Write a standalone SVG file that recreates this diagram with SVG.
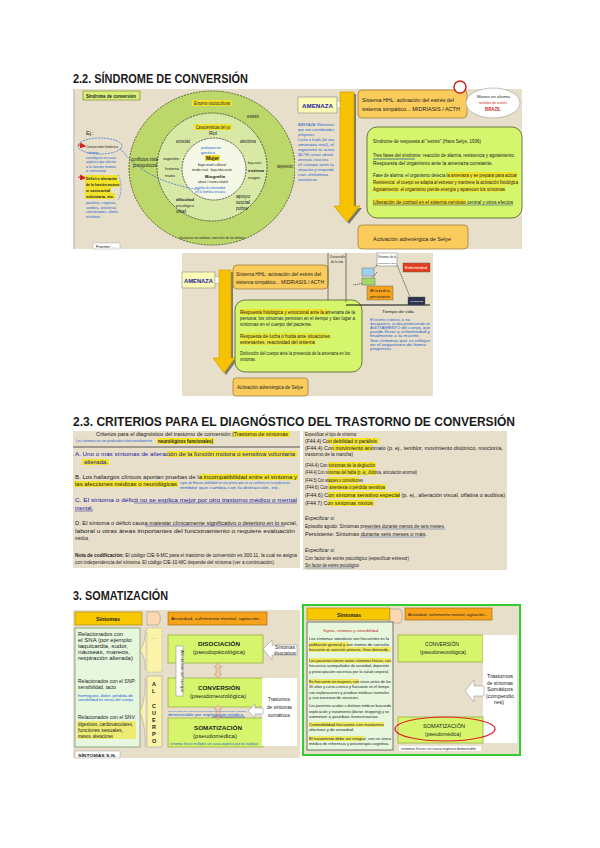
<svg xmlns="http://www.w3.org/2000/svg" width="600" height="848" viewBox="0 0 600 848">
<style>
.ttl{font-family:"Liberation Sans",Arial,sans-serif;font-weight:bold;font-size:12.5px;fill:#1a1a1a}
.t{font-family:"Liberation Sans",Arial,sans-serif;font-size:5px;fill:#222}
.tb{font-family:"Liberation Sans",Arial,sans-serif;font-size:5px;fill:#222;font-weight:bold}
.blu{font-family:"Liberation Sans",Arial,sans-serif;font-size:4.2px;fill:#1a5fd0}
.blub{font-family:"Liberation Sans",Arial,sans-serif;font-size:5px;fill:#1a1aa0;font-weight:bold}
.bg{fill:#e8dfca}
.hl{fill:#f2e22a}
.org{fill:#fbcb5c;stroke:#a08040;stroke-width:0.8}
.lime{fill:#d6f56c;stroke:#9ab040;stroke-width:0.8}
</style>
<defs>
<marker id="ar" markerWidth="6" markerHeight="6" refX="5" refY="3" orient="auto"><path d="M0,0L6,3L0,6z" fill="#d02020"/></marker>
</defs>
<rect width="600" height="848" fill="#fff"/>

<!-- Titles -->
<text class="ttl" x="73" y="83" textLength="175" lengthAdjust="spacingAndGlyphs">2.2. SÍNDROME DE CONVERSIÓN</text>
<text class="ttl" x="73" y="426" textLength="442" lengthAdjust="spacingAndGlyphs">2.3. CRITERIOS PARA EL DIAGNÓSTICO DEL TRASTORNO DE CONVERSIÓN</text>
<text class="ttl" x="73" y="600" textLength="95" lengthAdjust="spacingAndGlyphs">3. SOMATIZACIÓN</text>

<!-- Image 1 left: circles -->
<g id="circles">
<rect x="73" y="89" width="222" height="160" class="bg"/>
<line x1="74" y1="89" x2="74" y2="249" stroke="#bbb" stroke-width="1"/>
<rect x="83" y="91" width="57" height="9" fill="#d8ef7a" stroke="#8a9a40" stroke-width="0.8"/>
<text class="tb" x="86" y="97.5" textLength="50" lengthAdjust="spacingAndGlyphs">Síndrome de conversión</text>
<ellipse cx="212" cy="168" rx="83" ry="77" fill="#bcd86a" stroke="#3a4a20" stroke-width="0.8" stroke-dasharray="2,1"/>
<ellipse cx="212" cy="167" rx="55" ry="54" fill="#d8e9a6" stroke="#333" stroke-width="0.8" stroke-dasharray="2,1"/>
<ellipse cx="214" cy="169" rx="32" ry="31" fill="#f5f8e6" stroke="#333" stroke-width="0.8" stroke-dasharray="2,1"/>
<rect x="192" y="100" width="40" height="6" class="hl"/>
<text class="t" x="194" y="104.5" textLength="36" lengthAdjust="spacingAndGlyphs">Entorno sociocultural</text>
<text class="t" x="247" y="118" textLength="12" lengthAdjust="spacingAndGlyphs">estrés</text>
<rect x="194" y="124" width="38" height="6" class="hl"/>
<text class="t" x="196" y="128.5" textLength="34" lengthAdjust="spacingAndGlyphs">Características del yo</text>
<text class="t" x="209" y="135" textLength="8" lengthAdjust="spacingAndGlyphs">Rol</text>
<text class="t" x="176" y="143" textLength="14" lengthAdjust="spacingAndGlyphs">ansiedad</text>
<text class="t" x="240" y="143" textLength="16" lengthAdjust="spacingAndGlyphs">alexitimia</text>
<text class="t" x="277" y="168" textLength="16" lengthAdjust="spacingAndGlyphs">depresión</text>
<text class="t" x="131" y="161" textLength="28" lengthAdjust="spacingAndGlyphs">conflictos intra-</text>
<text class="t" x="133" y="167" textLength="24" lengthAdjust="spacingAndGlyphs">psíquicos</text>
<text class="t" x="163" y="160" style="font-size:4px" textLength="16" lengthAdjust="spacingAndGlyphs">sugestión</text>
<text class="t" x="165" y="170" style="font-size:4px" textLength="14" lengthAdjust="spacingAndGlyphs">histeria</text>
<text class="t" x="165" y="177" style="font-size:4px" textLength="10" lengthAdjust="spacingAndGlyphs">trato</text>
<text class="blu" x="201" y="149" style="font-size:3px" textLength="20" lengthAdjust="spacingAndGlyphs">predisposición</text>
<text class="blu" x="201" y="153.5" style="font-size:3px" textLength="14" lengthAdjust="spacingAndGlyphs">genética</text>
<rect x="205" y="155" width="15" height="6" class="hl"/>
<text class="tb" x="206" y="159.5" style="font-size:4.5px" textLength="13" lengthAdjust="spacingAndGlyphs">Mujer</text>
<text class="t" x="198" y="165.5" style="font-size:3.5px" textLength="28" lengthAdjust="spacingAndGlyphs">bajo nivel cultural</text>
<text class="t" x="192" y="171" style="font-size:3px" textLength="40" lengthAdjust="spacingAndGlyphs">medio rural · baja educación</text>
<text class="tb" x="205" y="177.5" style="font-size:4px" textLength="20" lengthAdjust="spacingAndGlyphs">Biografía</text>
<text class="t" x="198" y="183" style="font-size:3px" textLength="30" lengthAdjust="spacingAndGlyphs">abuso / trauma infantil</text>
<text class="blu" x="195" y="188.5" style="font-size:3px" textLength="30" lengthAdjust="spacingAndGlyphs">modelos de enfermedad</text>
<text class="blu" x="195" y="193" style="font-size:3px" textLength="30" lengthAdjust="spacingAndGlyphs">en la familia cercana</text>
<text class="t" x="248" y="164" style="font-size:3.5px" textLength="14" lengthAdjust="spacingAndGlyphs">baja auto-</text>
<text class="tb" x="248" y="171.5" style="font-size:4px" textLength="16" lengthAdjust="spacingAndGlyphs">estima</text>
<text class="t" x="248" y="179" style="font-size:4px" textLength="12" lengthAdjust="spacingAndGlyphs">rasgos</text>
<text class="tb" x="176" y="201" style="font-size:4px" textLength="18" lengthAdjust="spacingAndGlyphs">dificultad</text>
<text class="t" x="176" y="207" style="font-size:3.5px" textLength="18" lengthAdjust="spacingAndGlyphs">psicológica</text>
<text class="t" x="176" y="213" textLength="10" lengthAdjust="spacingAndGlyphs">vital</text>
<text class="t" x="236" y="198" textLength="14" lengthAdjust="spacingAndGlyphs">apoyo</text>
<text class="t" x="236" y="204" textLength="14" lengthAdjust="spacingAndGlyphs">social</text>
<text class="t" x="236" y="210" textLength="12" lengthAdjust="spacingAndGlyphs">pobre</text>
<text class="t" x="179" y="239" style="font-size:3.5px" textLength="66" lengthAdjust="spacingAndGlyphs">Ganancia secundaria: atención de los demás</text>
<text class="t" x="86" y="135" textLength="8" lengthAdjust="spacingAndGlyphs">Ej.:</text>
<ellipse cx="100" cy="146" rx="22" ry="8" fill="none" stroke="#2a6ad8" stroke-width="0.7" stroke-dasharray="2,1"/>
<text class="t" x="86" y="148" style="font-size:3.8px" textLength="32" lengthAdjust="spacingAndGlyphs">Conversión histérica</text>
<path d="M78,145 L85,146" stroke="#d02020" stroke-width="1" marker-end="url(#ar)"/>
<path d="M78,177 L85,178" stroke="#d02020" stroke-width="1" marker-end="url(#ar)"/>
<text class="blu" x="87" y="154" style="font-size:3px" textLength="12" lengthAdjust="spacingAndGlyphs">síntomas</text>
<text class="blu" x="86" y="158.5" style="font-size:3px" textLength="30" lengthAdjust="spacingAndGlyphs">neurológicos sin causa</text>
<text class="blu" x="86" y="163" style="font-size:3px" textLength="30" lengthAdjust="spacingAndGlyphs">orgánica que afectan</text>
<text class="blu" x="86" y="167.5" style="font-size:3px" textLength="30" lengthAdjust="spacingAndGlyphs">a la función motora</text>
<text class="blu" x="86" y="172" style="font-size:3px" textLength="20" lengthAdjust="spacingAndGlyphs">o sensorial</text>
<rect x="85" y="175" width="33" height="6" class="hl"/>
<rect x="85" y="181" width="35" height="6" class="hl"/>
<rect x="85" y="187" width="26" height="6" class="hl"/>
<rect x="85" y="193" width="30" height="6" class="hl"/>
<text class="tb" x="86" y="179.5" style="font-size:3.8px" textLength="31" lengthAdjust="spacingAndGlyphs">Déficit o alteración</text>
<text class="tb" x="86" y="185.5" style="font-size:3.8px" textLength="33" lengthAdjust="spacingAndGlyphs">de la función motora</text>
<text class="tb" x="86" y="191.5" style="font-size:3.8px" textLength="24" lengthAdjust="spacingAndGlyphs">o sensorial</text>
<text class="tb" x="86" y="197.5" style="font-size:3.8px" textLength="28" lengthAdjust="spacingAndGlyphs">voluntaria, etc.</text>
<path d="M118,175 C122,180 122,195 118,200" fill="none" stroke="#2a6ad8" stroke-width="0.6" stroke-dasharray="1.5,1"/>
<text class="blu" x="86" y="204" style="font-size:3px" textLength="30" lengthAdjust="spacingAndGlyphs">parálisis, ceguera,</text>
<text class="blu" x="86" y="208.5" style="font-size:3px" textLength="30" lengthAdjust="spacingAndGlyphs">sordera, anestesia</text>
<text class="blu" x="86" y="213" style="font-size:3px" textLength="32" lengthAdjust="spacingAndGlyphs">convulsiones, afonía</text>
<text class="blu" x="86" y="217.5" style="font-size:3px" textLength="14" lengthAdjust="spacingAndGlyphs">etcétera</text>
<path d="M120,148 C140,175 170,185 200,190" fill="none" stroke="#2a6ad8" stroke-width="0.7" stroke-dasharray="2,1"/>
<rect x="93" y="243" width="27" height="6" fill="#fff" stroke="#999" stroke-width="0.4"/>
<text class="t" x="96" y="247.5" style="font-size:4px" textLength="20" lengthAdjust="spacingAndGlyphs">Fuente: ...</text>
</g>

<!-- Image 1 right -->
<g id="amenaza1">
<rect x="295" y="89" width="227" height="160" class="bg"/>
<rect x="298" y="97" width="39" height="16" fill="#fdfbb8" stroke="#888" stroke-width="0.6"/>
<text class="blub" x="302" y="108" style="font-size:6px" textLength="31" lengthAdjust="spacingAndGlyphs">AMENAZA</text>
<path d="M337,101 H349 V98 L356,104.5 L349,111 V108 H337 Z" fill="#fff" stroke="#999" stroke-width="0.5"/>
<path d="M342,94 H356 V208 H362 L349,224 L336,208 H342 Z" fill="#7a7a6a"/>
<path d="M340,92 H354 V206 H360 L347,222 L334,206 H340 Z" fill="#f7c300" stroke="#c99a00" stroke-width="0.6"/>
<rect x="358" y="90" width="109" height="28" rx="4" class="org"/>
<text class="t" x="362" y="102" style="font-size:5.5px" textLength="92" lengthAdjust="spacingAndGlyphs">Sistema HHL: activación del estrés del</text>
<text class="t" x="362" y="111" style="font-size:5.5px" textLength="98" lengthAdjust="spacingAndGlyphs">sistema simpático... MIDRIASIS / ACTH</text>
<circle cx="460" cy="87" r="6" fill="#fff" stroke="#d02020" stroke-width="1.5"/>
<ellipse cx="493" cy="103" rx="27" ry="15" fill="#fff" stroke="#999" stroke-width="0.6"/>
<text class="t" x="477" y="97.5" style="font-size:4px" textLength="33" lengthAdjust="spacingAndGlyphs">Manos en alarma</text>
<text class="t" x="479" y="104" style="font-size:3.5px;fill:#d02020" textLength="28" lengthAdjust="spacingAndGlyphs">señales de estrés</text>
<text class="tb" x="485" y="110.5" style="fill:#d02020" textLength="16" lengthAdjust="spacingAndGlyphs">BRAZIL</text>
<text class="blu" x="298" y="126" style="font-size:3.2px" textLength="36" lengthAdjust="spacingAndGlyphs">AMENAZA: Elementos</text>
<text class="blu" x="298" y="131" style="font-size:3.2px" textLength="36" lengthAdjust="spacingAndGlyphs">que son considerados</text>
<text class="blu" x="298" y="136" style="font-size:3.2px" textLength="16" lengthAdjust="spacingAndGlyphs">peligrosos</text>
<text class="blu" x="298" y="141" style="font-size:3.2px" textLength="36" lengthAdjust="spacingAndGlyphs">Lucha o huida (de una</text>
<text class="blu" x="298" y="146" style="font-size:3.2px" textLength="36" lengthAdjust="spacingAndGlyphs">amenaza real), el</text>
<text class="blu" x="298" y="151" style="font-size:3.2px" textLength="36" lengthAdjust="spacingAndGlyphs">organismo se activa</text>
<text class="blu" x="298" y="156" style="font-size:3.2px" textLength="36" lengthAdjust="spacingAndGlyphs">(ACTH) cortisol, adrenal.</text>
<text class="blu" x="298" y="161" style="font-size:3.2px" textLength="30" lengthAdjust="spacingAndGlyphs">amenaza, reacciona</text>
<text class="blu" x="298" y="166" style="font-size:3.2px" textLength="36" lengthAdjust="spacingAndGlyphs">el cuerpo ante la</text>
<text class="blu" x="298" y="171" style="font-size:3.2px" textLength="36" lengthAdjust="spacingAndGlyphs">situación y responde</text>
<text class="blu" x="298" y="176" style="font-size:3.2px" textLength="30" lengthAdjust="spacingAndGlyphs">con síntomas</text>
<text class="blu" x="298" y="181" style="font-size:3.2px" textLength="20" lengthAdjust="spacingAndGlyphs">somáticos.</text>
<rect x="367" y="127" width="155" height="91" rx="10" fill="#d4f56c" stroke="#6a7a40" stroke-width="1"/>
<text class="t" x="373" y="143" style="font-size:5.5px" textLength="108" lengthAdjust="spacingAndGlyphs">Síndrome de respuesta al "estrés" (Hans Selye, 1936)</text>
<text class="t" x="373" y="157" style="font-size:5.5px" textLength="142" lengthAdjust="spacingAndGlyphs">Tres fases del síndrome: reacción de alarma, resistencia y agotamiento.</text>
<line x1="373" y1="159" x2="415" y2="159" stroke="#1a3aa0" stroke-width="0.7"/>
<text class="t" x="373" y="165" style="font-size:5.5px" textLength="120" lengthAdjust="spacingAndGlyphs">Respuesta del organismo ante la amenaza constante.</text>
<rect x="447" y="172" width="70" height="6" class="hl"/>
<rect x="373" y="179" width="145" height="6" fill="#f2e22a" opacity="0.7"/>
<rect x="373" y="186" width="132" height="6" fill="#f2e22a" opacity="0.7"/>
<text class="t" x="373" y="177" style="font-size:5.5px" textLength="144" lengthAdjust="spacingAndGlyphs">Fase de alarma: el organismo detecta la amenaza y se prepara para actuar</text>
<text class="t" x="373" y="184" style="font-size:5.5px" textLength="145" lengthAdjust="spacingAndGlyphs">Resistencia: el cuerpo se adapta al estresor y mantiene la activación fisiológica</text>
<text class="t" x="373" y="191" style="font-size:5.5px" textLength="132" lengthAdjust="spacingAndGlyphs">Agotamiento: el organismo pierde energía y aparecen los síntomas</text>
<rect x="373" y="199" width="93" height="6" class="hl"/>
<text class="t" x="373" y="203.5" style="font-size:5.5px" textLength="140" lengthAdjust="spacingAndGlyphs">Liberación de cortisol en el sistema nervioso central y otros efectos</text>
<line x1="373" y1="205" x2="513" y2="205" stroke="#1a3aa0" stroke-width="0.5"/>
<rect x="358" y="225" width="110" height="24" rx="4" class="org"/>
<text class="t" x="373" y="241" style="font-size:5.5px" textLength="78" lengthAdjust="spacingAndGlyphs">Activación adrenérgica de Selye</text>
</g>

<!-- Image 2 -->
<g id="amenaza2">
<rect x="182" y="253" width="251" height="143" class="bg"/>
<rect x="182" y="272" width="33" height="16" fill="#fdfbb8" stroke="#888" stroke-width="0.6"/>
<text class="blub" x="184" y="282.5" style="font-size:5.5px" textLength="29" lengthAdjust="spacingAndGlyphs">AMENAZA</text>
<path d="M215,276.5 H226 V274 L232,280 L226,286 V283.5 H215 Z" fill="#fff" stroke="#999" stroke-width="0.5"/>
<path d="M221,272 H233 V360 H237 L226,375 L215,360 H221 Z" fill="#7a7a6a"/>
<path d="M219,270 H231 V358 H235 L224,373 L213,358 H219 Z" fill="#f7c300" stroke="#c99a00" stroke-width="0.6"/>
<rect x="233" y="265" width="95" height="24" rx="4" class="org"/>
<text class="t" x="236" y="276" textLength="85" lengthAdjust="spacingAndGlyphs">Sistema HHL: activación del estrés del</text>
<text class="t" x="236" y="284" textLength="88" lengthAdjust="spacingAndGlyphs">sistema simpático... MIDRIASIS / ACTH</text>
<rect x="235" y="300" width="127" height="72" rx="10" fill="#d4f56c" stroke="#6a7a40" stroke-width="1"/>
<rect x="240" y="309" width="89" height="6" class="hl"/>
<text class="t" x="240" y="313.5" textLength="115" lengthAdjust="spacingAndGlyphs">Respuesta fisiológica y emocional ante la amenaza de la</text>
<text class="t" x="240" y="319.5" textLength="115" lengthAdjust="spacingAndGlyphs">persona: los síntomas persisten en el tiempo y dan lugar a</text>
<text class="t" x="240" y="325.5" textLength="72" lengthAdjust="spacingAndGlyphs">síntomas en el cuerpo del paciente.</text>
<rect x="240" y="333" width="90" height="6" fill="#f2e22a" opacity="0.7"/>
<rect x="240" y="339" width="75" height="6" fill="#f2e22a" opacity="0.7"/>
<text class="t" x="240" y="337.5" textLength="90" lengthAdjust="spacingAndGlyphs">Respuesta de lucha o huida ante situaciones</text>
<text class="t" x="240" y="343.5" textLength="75" lengthAdjust="spacingAndGlyphs">estresantes, reactividad del sistema</text>
<text class="blu" x="270" y="349">...</text>
<text class="t" x="240" y="355" textLength="110" lengthAdjust="spacingAndGlyphs">Disfunción del cuerpo ante la presencia de la amenaza en los</text>
<text class="t" x="240" y="361" textLength="16" lengthAdjust="spacingAndGlyphs">síntomas.</text>
<rect x="233" y="378" width="75" height="18" rx="3" class="org"/>
<text class="t" x="237" y="389" textLength="66" lengthAdjust="spacingAndGlyphs">Activación adrenérgica de Selye</text>
<line x1="328" y1="253" x2="328" y2="300" stroke="#555" stroke-width="0.8"/>
<line x1="346" y1="253" x2="346" y2="302" stroke="#555" stroke-width="0.8"/>
<text class="t" x="330" y="258" style="font-size:3px" textLength="15" lengthAdjust="spacingAndGlyphs">Desarrollo</text>
<text class="t" x="331" y="263" style="font-size:3px" textLength="12" lengthAdjust="spacingAndGlyphs">de la vida</text>
<line x1="346" y1="305" x2="430" y2="305" stroke="#111" stroke-width="1.2"/>
<rect x="377" y="253" width="20" height="13" fill="#fff" stroke="#555" stroke-width="0.4"/>
<text class="t" x="378" y="258" style="font-size:2.6px" textLength="18" lengthAdjust="spacingAndGlyphs">Síntomas de la</text>
<text class="t" x="378" y="264" style="font-size:2.2px" textLength="18" lengthAdjust="spacingAndGlyphs">respuesta al estrés</text>
<path d="M377,265 L372,270 M397,265 L410,297 M377,272 L368,285 M365,283 L353,285" stroke="#333" stroke-width="0.7" fill="none" stroke-dasharray="1.5,0.8"/>
<rect x="362" y="268" width="12" height="8" fill="#9fd0ec" stroke="#555" stroke-width="0.4"/>
<rect x="362" y="278" width="13" height="7" fill="#a6d66a" stroke="#555" stroke-width="0.4"/>
<rect x="367" y="286" width="26" height="14" fill="#f7a21b" stroke="#555" stroke-width="0.4"/>
<text class="t" x="370" y="292" style="font-size:2.8px" textLength="20" lengthAdjust="spacingAndGlyphs">Estrés</text>
<text class="t" x="370" y="297.5" style="font-size:2.8px" textLength="20" lengthAdjust="spacingAndGlyphs">persistente</text>
<rect x="403" y="263" width="27" height="9" fill="#e04020" stroke="#555" stroke-width="0.4"/>
<text class="t" x="405" y="269" style="font-size:3px;fill:#fff" textLength="22" lengthAdjust="spacingAndGlyphs">Enfermedad</text>
<rect x="408" y="297" width="17" height="8" fill="#2a3350" stroke="#555" stroke-width="0.4"/>
<text class="t" x="410" y="302" style="font-size:2.5px;fill:#fff" textLength="13" lengthAdjust="spacingAndGlyphs">MUERTE</text>
<text class="t" x="382" y="313" style="font-size:3.5px" textLength="32" lengthAdjust="spacingAndGlyphs">Tiempo de vida</text>
<text class="blu" x="370" y="321" style="font-size:3px" textLength="40" lengthAdjust="spacingAndGlyphs">El estrés crónico, si no</text>
<text class="blu" x="370" y="325" style="font-size:3px" textLength="60" lengthAdjust="spacingAndGlyphs">desaparece, acaba produciendo un</text>
<text class="blu" x="370" y="329" style="font-size:3px" textLength="60" lengthAdjust="spacingAndGlyphs">AGOTAMIENTO del cuerpo, que</text>
<text class="blu" x="370" y="333" style="font-size:3px" textLength="60" lengthAdjust="spacingAndGlyphs">puede llevar a enfermedad y</text>
<text class="blu" x="370" y="337" style="font-size:3px" textLength="50" lengthAdjust="spacingAndGlyphs">finalmente a la muerte.</text>
<text class="blu" x="370" y="342" style="font-size:3px" textLength="60" lengthAdjust="spacingAndGlyphs">Son síntomas que se reflejan</text>
<text class="blu" x="370" y="346" style="font-size:3px" textLength="56" lengthAdjust="spacingAndGlyphs">en el organismo de forma</text>
<text class="blu" x="370" y="350" style="font-size:3px" textLength="22" lengthAdjust="spacingAndGlyphs">progresiva.</text>
</g>

<!-- Criteria left -->
<g id="criterios">
<rect x="73" y="431" width="227" height="137" class="bg"/>
<rect x="233" y="431" width="57" height="6" class="hl"/>
<text class="t" x="96" y="435.5" textLength="192" lengthAdjust="spacingAndGlyphs">Criterios para el diagnóstico del trastorno de conversión (Trastorno de síntomas</text>
<text class="blu" x="76" y="442" style="font-size:3px" textLength="76" lengthAdjust="spacingAndGlyphs">Los síntomas no son producidos intencionadamente</text>
<rect x="157" y="438" width="57" height="6" class="hl"/>
<text class="tb" x="158" y="442.5" style="font-size:4.5px" textLength="55" lengthAdjust="spacingAndGlyphs">neurológicos funcionales)</text>
<line x1="73" y1="447" x2="300" y2="447" stroke="#333" stroke-width="0.8"/>
<rect x="167" y="451" width="130" height="6" class="hl"/>
<rect x="82" y="459" width="27" height="6" class="hl"/>
<text class="t" x="75" y="455.5" style="fill:#1a1aa0" textLength="220" lengthAdjust="spacingAndGlyphs">A. Uno o más síntomas de alteración de la función motora o sensitiva voluntaria</text>
<text class="t" x="84" y="463.5" style="fill:#1a1aa0" textLength="24" lengthAdjust="spacingAndGlyphs">alterada.</text>
<rect x="200" y="474" width="98" height="6" class="hl"/>
<rect x="74" y="481" width="104" height="6" class="hl"/>
<text class="t" x="75" y="478.5" textLength="222" lengthAdjust="spacingAndGlyphs">B. Los hallazgos clínicos aportan pruebas de la incompatibilidad entre el síntoma y</text>
<text class="t" x="75" y="485.5" textLength="102" lengthAdjust="spacingAndGlyphs">las afecciones médicas o neurológicas</text>
<text class="blu" x="180" y="484" style="font-size:2.8px" textLength="110" lengthAdjust="spacingAndGlyphs">signo de Hoover, debilidad en una pierna que no se confirma en la exploración</text>
<text class="blu" x="180" y="488.5" style="font-size:3px" textLength="100" lengthAdjust="spacingAndGlyphs">temblor que cambia con la distracción, etc.</text>
<text class="t" x="75" y="501.5" style="fill:#1a1aa0" textLength="222" lengthAdjust="spacingAndGlyphs">C. El síntoma o déficit no se explica mejor por otro trastorno médico o mental</text>
<line x1="134" y1="503" x2="297" y2="503" stroke="#1a1aa0" stroke-width="0.5"/>
<text class="t" x="75" y="509.5" style="fill:#1a1aa0" textLength="18" lengthAdjust="spacingAndGlyphs">mental.</text>
<line x1="75" y1="511" x2="93" y2="511" stroke="#1a1aa0" stroke-width="0.5"/>
<text class="t" x="75" y="525" textLength="222" lengthAdjust="spacingAndGlyphs">D. El síntoma o déficit causa malestar clínicamente significativo o deterioro en lo social,</text>
<line x1="145" y1="526" x2="285" y2="526" stroke="#1a1aa0" stroke-width="0.5"/>
<text class="t" x="75" y="532.5" textLength="220" lengthAdjust="spacingAndGlyphs">laboral u otras áreas importantes del funcionamiento o requiere evaluación</text>
<text class="t" x="75" y="540" textLength="14" lengthAdjust="spacingAndGlyphs">médica.</text>
<text class="t" x="75" y="557" textLength="222" lengthAdjust="spacingAndGlyphs"><tspan font-weight="bold">Nota de codificación:</tspan> El código CIE-9-MC para el trastorno de conversión es 300.11, la cual se asigna</text>
<text class="t" x="75" y="564" textLength="200" lengthAdjust="spacingAndGlyphs">con independencia del síntoma. El código CIE-10-MC depende del síntoma (ver a continuación).</text>
</g>

<!-- Criteria right -->
<g id="especificar">
<rect x="303" y="431" width="204" height="139" class="bg"/>
<text class="t" x="305" y="436" textLength="52" lengthAdjust="spacingAndGlyphs">Especificar el tipo de síntoma:</text>
<rect x="328" y="438" width="51" height="6" class="hl"/>
<text class="t" x="305" y="442.5" textLength="72" lengthAdjust="spacingAndGlyphs">(F44.4) Con debilidad o parálisis</text>
<rect x="332" y="445" width="40" height="6" class="hl"/>
<text class="t" x="305" y="449.5" textLength="198" lengthAdjust="spacingAndGlyphs">(F44.4) Con movimiento anómalo (p. ej., temblor, movimiento distónico, mioclonía,</text>
<text class="t" x="305" y="456" textLength="48" lengthAdjust="spacingAndGlyphs">trastorno de la marcha)</text>
<rect x="328" y="462" width="48" height="6" class="hl"/>
<text class="t" x="305" y="466.5" textLength="70" lengthAdjust="spacingAndGlyphs">(F44.4) Con síntomas de la deglución</text>
<rect x="328" y="469" width="48" height="6" class="hl"/>
<text class="t" x="305" y="473.5" textLength="112" lengthAdjust="spacingAndGlyphs">(F44.4) Con síntomas del habla (p. ej., disfonía, articulación anormal)</text>
<rect x="328" y="477" width="31" height="6" class="hl"/>
<text class="t" x="305" y="481.5" textLength="58" lengthAdjust="spacingAndGlyphs">(F44.5) Con ataques o convulsiones</text>
<rect x="328" y="484" width="58" height="6" class="hl"/>
<text class="t" x="305" y="488.5" textLength="80" lengthAdjust="spacingAndGlyphs">(F44.6) Con anestesia o pérdida sensitiva</text>
<rect x="328" y="492" width="72" height="6" class="hl"/>
<text class="t" x="305" y="496.5" textLength="200" lengthAdjust="spacingAndGlyphs">(F44.6) Con síntoma sensitivo especial (p. ej., alteración visual, olfativa o auditiva)</text>
<rect x="328" y="500" width="46" height="6" class="hl"/>
<text class="t" x="305" y="504.5" textLength="68" lengthAdjust="spacingAndGlyphs">(F44.7) Con síntomas mixtos</text>
<text class="t" x="305" y="520" font-style="italic" textLength="30" lengthAdjust="spacingAndGlyphs">Especificar si:</text>
<text class="t" x="305" y="527.5" textLength="140" lengthAdjust="spacingAndGlyphs">Episodio agudo: Síntomas presentes durante menos de seis meses.</text>
<line x1="365" y1="529" x2="445" y2="529" stroke="#1a3aa0" stroke-width="0.4"/>
<text class="t" x="305" y="535.5" textLength="122" lengthAdjust="spacingAndGlyphs">Persistente: Síntomas durante seis meses o más.</text>
<line x1="360" y1="537" x2="425" y2="537" stroke="#1a3aa0" stroke-width="0.4"/>
<text class="t" x="305" y="552" font-style="italic" textLength="30" lengthAdjust="spacingAndGlyphs">Especificar si:</text>
<text class="t" x="305" y="559.5" textLength="104" lengthAdjust="spacingAndGlyphs">Con factor de estrés psicológico (especificar estresor)</text>
<text class="t" x="305" y="566.5" textLength="54" lengthAdjust="spacingAndGlyphs">Sin factor de estrés psicológico</text>
<line x1="305" y1="568" x2="355" y2="568" stroke="#1a3aa0" stroke-width="0.4"/>
</g>

<!-- Somatización left -->
<g id="soma1">
<rect x="73" y="610" width="227" height="148" class="bg"/>
<rect x="75" y="612" width="67" height="13" fill="#f7c800" stroke="#a08000" stroke-width="0.6"/>
<text class="tb" x="96" y="621" style="font-size:6px" textLength="24" lengthAdjust="spacingAndGlyphs">Síntomas</text>
<path d="M147,612 H158 C161,615 161,622 158,625 H147 Z" fill="#fbd8b0" stroke="#888" stroke-width="0.5"/>
<rect x="168" y="612" width="99" height="13" fill="#f7a21b" stroke="#a06000" stroke-width="0.6"/>
<text class="t" x="171" y="620" style="font-size:4px" textLength="92" lengthAdjust="spacingAndGlyphs">Ansiedad, sufrimiento mental, agitación...</text>
<rect x="75" y="628" width="65" height="119" fill="#e6f7de" stroke="#6a8a6a" stroke-width="0.7"/>
<text class="t" x="78" y="636" textLength="45" lengthAdjust="spacingAndGlyphs">Relacionados con</text>
<text class="t" x="78" y="642" textLength="55" lengthAdjust="spacingAndGlyphs">el SNA (por ejemplo:</text>
<text class="t" x="78" y="648" textLength="50" lengthAdjust="spacingAndGlyphs">taquicardia, sudor,</text>
<text class="t" x="78" y="654" textLength="52" lengthAdjust="spacingAndGlyphs">náuseas, mareos,</text>
<text class="t" x="78" y="660" textLength="55" lengthAdjust="spacingAndGlyphs">respiración alterada)</text>
<text class="t" x="78" y="683" textLength="58" lengthAdjust="spacingAndGlyphs">Relacionados con el SNP:</text>
<text class="t" x="78" y="689" textLength="38" lengthAdjust="spacingAndGlyphs">sensibilidad, tacto</text>
<text class="blu" x="78" y="697" style="font-size:3px" textLength="55" lengthAdjust="spacingAndGlyphs">hormigueo, dolor, pérdida de</text>
<text class="blu" x="78" y="701" style="font-size:3px" textLength="55" lengthAdjust="spacingAndGlyphs">sensibilidad en zonas del cuerpo</text>
<text class="t" x="78" y="719" textLength="58" lengthAdjust="spacingAndGlyphs">Relacionados con el SNV:</text>
<rect x="77" y="721" width="59" height="18" fill="#f2e22a" opacity="0.6"/>
<text class="t" x="78" y="726" textLength="55" lengthAdjust="spacingAndGlyphs">digestivos, cardiovasculares,</text>
<text class="t" x="78" y="732" textLength="45" lengthAdjust="spacingAndGlyphs">funciones sexuales,</text>
<text class="t" x="78" y="738" textLength="35" lengthAdjust="spacingAndGlyphs">mareos, alteraciones</text>
<path d="M145,630 C146,640 142,648 140,650 C142,652 146,660 145,670" fill="#fbf4a8" stroke="#999" stroke-width="0.5"/>
<rect x="147" y="628" width="15" height="44" fill="#fbf4a8" stroke="#999" stroke-width="0.5" stroke-dasharray="1.5,1"/>
<text class="t" x="152" y="640" style="font-size:3.5px">· · ·</text>
<path d="M145,678 C146,695 142,708 140,712 C142,716 146,730 145,747" fill="#fbf4a8" stroke="#999" stroke-width="0.5"/>
<rect x="147" y="676" width="15" height="71" fill="#fbf4a8" stroke="#999" stroke-width="0.5"/>
<text class="tb" x="152" y="686" style="font-size:5.5px">A</text>
<text class="tb" x="152" y="693" style="font-size:5.5px">L</text>
<text class="tb" x="152" y="708" style="font-size:5.5px">C</text>
<text class="tb" x="152" y="715" style="font-size:5.5px">U</text>
<text class="tb" x="152" y="722" style="font-size:5.5px">E</text>
<text class="tb" x="152" y="729" style="font-size:5.5px">R</text>
<text class="tb" x="152" y="736" style="font-size:5.5px">P</text>
<text class="tb" x="152" y="743" style="font-size:5.5px">O</text>
<rect x="168" y="635" width="95" height="28" class="lime"/>
<text class="tb" x="198" y="646" style="font-size:6px" textLength="42" lengthAdjust="spacingAndGlyphs">DISOCIACIÓN</text>
<text class="t" x="193" y="654" style="font-size:5.5px" textLength="52" lengthAdjust="spacingAndGlyphs">(pseudopsicológica)</text>
<rect x="168" y="678" width="95" height="29" class="lime"/>
<text class="tb" x="198" y="690" style="font-size:6px" textLength="42" lengthAdjust="spacingAndGlyphs">CONVERSIÓN</text>
<text class="t" x="190" y="698" style="font-size:5.5px" textLength="56" lengthAdjust="spacingAndGlyphs">(pseudoneurológica)</text>
<rect x="168" y="718" width="95" height="29" class="lime"/>
<text class="tb" x="194" y="730" style="font-size:6px" textLength="48" lengthAdjust="spacingAndGlyphs">SOMATIZACIÓN</text>
<text class="t" x="193" y="738" style="font-size:5.5px" textLength="44" lengthAdjust="spacingAndGlyphs">(pseudomédica)</text>
<rect x="176" y="646" width="7" height="50" fill="#fff" stroke="#888" stroke-width="0.5"/>
<text class="t" x="181" y="650" style="font-size:3.5px" transform="rotate(90 181 650)" textLength="42" lengthAdjust="spacingAndGlyphs">Afectación del cuerpo</text>
<path d="M218,663 L222,667 H220 V674 H222 L218,678 L214,674 H216 V667 H214 Z" fill="#f4c8a0" stroke="#999" stroke-width="0.5"/>
<path d="M218,705 L222,709 H220 V716 H222 L218,720 L214,716 H216 V709 H214 Z" fill="#f4c8a0" stroke="#999" stroke-width="0.5"/>
<path d="M263,649 L272,640 V645 H297 V655 H272 V660 Z" fill="#fff" stroke="#888" stroke-width="0.5"/>
<text class="t" x="275" y="648.5" textLength="20" lengthAdjust="spacingAndGlyphs">Síntomas</text>
<text class="t" x="274" y="655" textLength="22" lengthAdjust="spacingAndGlyphs">disociativos</text>
<rect x="262" y="678" width="35" height="68" fill="#fff"/>
<path d="M248,711 L255,704 V708 H263 V714 H255 V718 Z" fill="#fff" stroke="#888" stroke-width="0.5"/>
<text class="t" x="268" y="701" style="font-size:4.5px" textLength="22" lengthAdjust="spacingAndGlyphs">Trastornos</text>
<text class="t" x="267" y="709" style="font-size:4.5px" textLength="25" lengthAdjust="spacingAndGlyphs">de síntomas</text>
<text class="t" x="268" y="717" style="font-size:4.5px" textLength="22" lengthAdjust="spacingAndGlyphs">somáticos</text>
<text class="blu" x="168" y="711.5" style="font-size:2.2px" textLength="78" lengthAdjust="spacingAndGlyphs">La conversión se relaciona con síntomas neurológicos sin base orgánica</text>
<text class="blu" x="168" y="716" style="font-size:3px" textLength="75" lengthAdjust="spacingAndGlyphs">demostrable por exploración médica</text>
<line x1="212" y1="717" x2="245" y2="717" stroke="#1a3aa0" stroke-width="0.6"/>
<text class="blu" x="170" y="744.5" style="font-size:2.8px" textLength="88" lengthAdjust="spacingAndGlyphs">síntomas físicos múltiples sin causa orgánica que los explique</text>
<rect x="75" y="751" width="45" height="7" fill="#fff" stroke="#888" stroke-width="0.4"/>
<text class="tb" x="78" y="756.5" style="font-size:4px" textLength="38" lengthAdjust="spacingAndGlyphs">SÍNTOMAS S.N.</text>
</g>

<!-- Somatización right -->
<g id="soma2">
<rect x="303" y="605" width="217" height="150" fill="#e8dfca" stroke="#33cc33" stroke-width="2"/>
<rect x="307" y="608" width="83" height="12" fill="#f7c800" stroke="#a08000" stroke-width="0.6"/>
<text class="tb" x="337" y="616.5" style="font-size:6px" textLength="24" lengthAdjust="spacingAndGlyphs">Síntomas</text>
<path d="M390,609 H400 C403,612 403,620 400,623 H390 Z" fill="#fbd8b0" stroke="#888" stroke-width="0.5"/>
<rect x="405" y="608" width="87" height="12" fill="#f7a21b" stroke="#a06000" stroke-width="0.6"/>
<text class="t" x="408" y="616" style="font-size:4px" textLength="80" lengthAdjust="spacingAndGlyphs">Ansiedad, sufrimiento mental, agitación...</text>
<rect x="307" y="622" width="86" height="128" fill="#e6f7de" stroke="#555" stroke-width="0.8"/>
<text class="t" x="323" y="632" style="font-size:4.2px;fill:#c02020" textLength="55" lengthAdjust="spacingAndGlyphs">Signos, síntomas y comorbilidad</text>
<text class="t" x="309" y="640" style="font-size:3.8px" textLength="80" lengthAdjust="spacingAndGlyphs">Los síntomas somáticos son frecuentes en la</text>
<rect x="309" y="642" width="40" height="5" fill="#f2e22a" opacity="0.7"/>
<rect x="309" y="647" width="82" height="5" fill="#f2e22a" opacity="0.7"/>
<text class="t" x="309" y="645.5" style="font-size:3.8px" textLength="80" lengthAdjust="spacingAndGlyphs">población general y son motivo de consulta</text>
<text class="t" x="309" y="651" style="font-size:3.8px" textLength="80" lengthAdjust="spacingAndGlyphs">frecuente en atención primaria. Gran demanda.</text>
<rect x="309" y="658" width="82" height="5" fill="#f2e22a" opacity="0.7"/>
<text class="t" x="309" y="661.5" style="font-size:3.8px" textLength="82" lengthAdjust="spacingAndGlyphs">Los pacientes tienen varios síntomas físicos, con</text>
<text class="t" x="309" y="667" style="font-size:3.8px" textLength="80" lengthAdjust="spacingAndGlyphs">frecuencia acompañados de ansiedad, depresión</text>
<text class="t" x="309" y="672.5" style="font-size:3.8px" textLength="80" lengthAdjust="spacingAndGlyphs">y preocupación excesiva por la salud corporal.</text>
<rect x="309" y="679" width="50" height="5" fill="#f2e22a" opacity="0.7"/>
<text class="t" x="309" y="682.5" style="font-size:3.8px" textLength="82" lengthAdjust="spacingAndGlyphs">Es frecuente en mujeres, con inicio antes de los</text>
<text class="t" x="309" y="688" style="font-size:3.8px" textLength="80" lengthAdjust="spacingAndGlyphs">30 años y curso crónico y fluctuante en el tiempo</text>
<text class="t" x="309" y="693.5" style="font-size:3.8px" textLength="80" lengthAdjust="spacingAndGlyphs">con exploraciones y pruebas médicas normales</text>
<text class="t" x="309" y="699" style="font-size:3.8px" textLength="50" lengthAdjust="spacingAndGlyphs">y uso excesivo de servicios.</text>
<text class="t" x="309" y="707" style="font-size:3.8px" textLength="82" lengthAdjust="spacingAndGlyphs">Los pacientes acuden a distintos médicos buscando</text>
<text class="t" x="309" y="712.5" style="font-size:3.8px" textLength="80" lengthAdjust="spacingAndGlyphs">explicación y tratamiento (doctor shopping) y se</text>
<text class="t" x="309" y="718" style="font-size:3.8px" textLength="70" lengthAdjust="spacingAndGlyphs">someten a pruebas innecesarias.</text>
<rect x="309" y="722" width="75" height="5" fill="#f2e22a" opacity="0.7"/>
<text class="t" x="309" y="725.5" style="font-size:3.8px" textLength="75" lengthAdjust="spacingAndGlyphs">Comorbilidad frecuente con trastornos</text>
<text class="t" x="309" y="731" style="font-size:3.8px" textLength="45" lengthAdjust="spacingAndGlyphs">afectivos y de ansiedad.</text>
<rect x="309" y="736" width="55" height="5" fill="#f2e22a" opacity="0.7"/>
<text class="t" x="309" y="739.5" style="font-size:3.8px" textLength="82" lengthAdjust="spacingAndGlyphs">El tratamiento debe ser integral, con un único</text>
<text class="t" x="309" y="745" style="font-size:3.8px" textLength="80" lengthAdjust="spacingAndGlyphs">médico de referencia y psicoterapia cognitiva.</text>
<rect x="398" y="635" width="85" height="27" class="lime"/>
<text class="t" x="425" y="646" style="font-size:5.5px" textLength="34" lengthAdjust="spacingAndGlyphs">CONVERSIÓN</text>
<text class="t" x="420" y="654" style="font-size:5.5px" textLength="46" lengthAdjust="spacingAndGlyphs">(pseudoneurológica)</text>
<rect x="483" y="635" width="34" height="108" fill="#fff"/>
<path d="M465,691 L474,680 V686 H484 V696 H474 V702 Z" fill="#fff" stroke="#888" stroke-width="0.5"/>
<text class="t" x="487" y="678" style="font-size:4.8px" textLength="26" lengthAdjust="spacingAndGlyphs">Trastornos</text>
<text class="t" x="487" y="684.5" style="font-size:4.8px" textLength="26" lengthAdjust="spacingAndGlyphs">de síntomas</text>
<text class="t" x="487" y="691" style="font-size:4.8px" textLength="26" lengthAdjust="spacingAndGlyphs">Somáticos</text>
<text class="t" x="486" y="697.5" style="font-size:4.8px" textLength="28" lengthAdjust="spacingAndGlyphs">(compendio</text>
<text class="t" x="494" y="704" style="font-size:4.8px" textLength="10" lengthAdjust="spacingAndGlyphs">res)</text>
<rect x="398" y="717" width="85" height="26" class="lime"/>
<text class="t" x="423" y="728" style="font-size:5.5px" textLength="42" lengthAdjust="spacingAndGlyphs">SOMATIZACIÓN</text>
<text class="t" x="425" y="736" style="font-size:5.5px" textLength="36" lengthAdjust="spacingAndGlyphs">(pseudomédica)</text>
<ellipse cx="445" cy="729" rx="50" ry="12" fill="none" stroke="#e02020" stroke-width="1.2"/>
<rect x="399" y="746" width="82" height="5" fill="#fff"/>
<text class="t" x="401" y="750" style="font-size:3px" textLength="75" lengthAdjust="spacingAndGlyphs">síntomas físicos sin causa orgánica demostrable</text>
</g>
</svg>
